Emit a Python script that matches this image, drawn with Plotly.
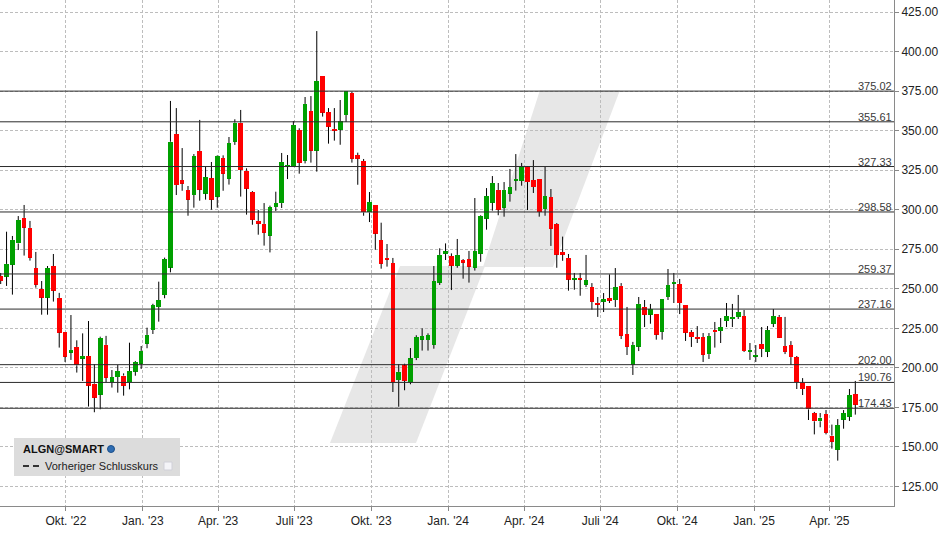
import pandas as pd
import plotly.graph_objects as go

# ---------------- data (weekly candles, ALGN) ----------------
first_week = "2022-07-15"
n_weeks = 147

opens = [258.0, 257.7, 265.2, 278.7, 294.8, 288.5, 263.1, 249.9, 244.4, 264.4,
         244.2, 222.7, 209.6, 213.2, 205.8, 207.5, 190.0, 183.0, 214.5, 190.8,
         194.2, 195.1, 190.8, 197.6, 202.7, 215.3, 223.9, 238.5, 246.1, 263.4,
         347.9, 318.8, 312.5, 309.3, 337.2, 310.2, 320.0, 308.3, 332.7, 319.6,
         343.0, 355.1, 324.7, 311.2, 292.9, 291.0, 283.6, 301.7, 304.2, 327.2,
         327.6, 350.4, 331.0, 362.4, 337.4, 384.6, 361.8, 351.1, 350.6, 359.9,
         373.8, 334.6, 330.8, 298.3, 303.0, 280.8, 269.5, 266.3, 192.3, 201.5,
         191.0, 206.2, 217.8, 217.6, 214.6, 253.9, 272.2, 270.7, 264.6, 268.2,
         268.8, 263.3, 272.2, 294.3, 304.5, 312.5, 301.3, 310.2, 318.4, 318.2,
         327.2, 318.8, 319.4, 300.5, 308.0, 291.0, 273.3, 269.5, 255.8, 256.8,
         252.6, 251.1, 241.0, 241.8, 244.2, 242.9, 251.8, 221.4, 201.8, 213.4,
         238.5, 233.6, 234.0, 222.9, 244.8, 253.2, 253.0, 239.7, 222.6, 219.5,
         219.5, 208.7, 223.9, 223.3, 229.6, 230.9, 232.2, 232.8, 210.2, 207.1,
         215.1, 210.2, 227.9, 232.2, 213.8, 214.4, 206.8, 190.4, 188.5, 171.4,
         166.2, 170.8, 157.1, 148.2, 167.2, 169.1, 183.4]

highs = [260.0, 286.1, 283.4, 296.0, 303.0, 292.9, 273.3, 254.9, 264.4, 272.0,
         247.4, 222.7, 233.4, 217.4, 221.8, 229.6, 202.4, 219.7, 220.2, 198.6,
         201.8, 196.5, 215.9, 204.3, 213.8, 225.4, 240.5, 254.5, 269.7, 368.8,
         364.3, 339.0, 315.0, 335.2, 356.8, 327.5, 330.2, 334.4, 334.4, 346.0,
         357.2, 363.1, 326.2, 311.8, 299.8, 304.2, 302.6, 311.4, 335.9, 334.6,
         356.1, 351.5, 371.3, 371.9, 413.0, 384.6, 364.3, 364.3, 369.4, 374.9,
         374.5, 336.1, 332.1, 311.2, 303.0, 291.8, 278.3, 269.5, 202.4, 202.6,
         212.5, 220.6, 225.0, 221.8, 264.4, 275.6, 278.7, 272.4, 281.5, 268.8,
         273.9, 307.4, 296.5, 313.7, 321.3, 316.9, 317.5, 325.8, 335.2, 329.6,
         327.6, 331.4, 319.4, 327.2, 313.1, 291.6, 283.0, 272.0, 260.0, 260.0,
         271.4, 253.6, 244.8, 247.3, 259.1, 263.1, 253.6, 238.5, 216.4, 244.8,
         242.9, 240.4, 234.0, 243.5, 262.5, 260.0, 256.2, 239.7, 223.9, 226.4,
         222.0, 222.0, 229.0, 231.5, 241.0, 240.4, 246.1, 236.6, 215.7, 214.4,
         225.8, 226.4, 237.2, 233.4, 232.2, 216.9, 207.5, 193.5, 188.5, 172.1,
         171.4, 173.3, 164.1, 167.6, 173.3, 186.6, 191.7]

lows = [253.0, 251.8, 246.3, 274.5, 271.0, 267.8, 250.7, 233.6, 233.6, 241.9,
        212.8, 203.7, 205.0, 197.0, 191.7, 175.5, 171.9, 173.8, 190.8, 187.5,
        184.3, 182.4, 186.4, 195.0, 199.3, 212.4, 221.4, 229.2, 244.0, 260.4,
        309.3, 312.0, 296.2, 301.3, 305.7, 306.4, 300.0, 301.3, 312.0, 315.9,
        341.0, 308.3, 296.9, 290.5, 284.2, 277.3, 273.0, 299.2, 301.1, 319.4,
        327.2, 322.8, 329.3, 329.8, 324.1, 358.9, 341.8, 343.7, 341.1, 355.5,
        329.8, 315.8, 296.2, 292.2, 274.7, 262.7, 264.0, 184.7, 175.4, 185.8,
        189.6, 204.9, 210.9, 210.9, 212.1, 252.4, 268.2, 249.2, 263.3, 256.4,
        253.9, 261.5, 267.1, 287.4, 299.4, 296.5, 295.6, 305.1, 312.1, 315.2,
        299.8, 310.6, 295.6, 296.2, 277.1, 263.3, 267.7, 248.8, 249.4, 245.6,
        251.1, 236.8, 232.2, 235.3, 241.0, 238.5, 218.2, 208.1, 195.5, 210.6,
        225.8, 227.9, 217.8, 217.8, 242.9, 241.0, 234.0, 217.0, 213.2, 215.7,
        203.7, 205.6, 212.8, 215.7, 225.8, 225.8, 230.9, 210.0, 205.0, 203.7,
        206.8, 206.8, 225.8, 218.9, 208.7, 201.8, 186.6, 182.8, 167.0, 157.9,
        162.4, 157.9, 148.9, 141.3, 161.5, 166.4, 170.4]

closes = [255.1, 265.7, 280.9, 293.5, 288.7, 269.7, 252.6, 244.4, 263.1, 248.8,
          222.3, 207.1, 211.3, 201.6, 207.5, 188.7, 181.1, 218.9, 193.8, 194.2,
          198.0, 188.7, 198.0, 203.7, 210.7, 220.8, 239.7, 242.9, 268.8, 343.0,
          315.6, 316.5, 306.4, 334.0, 312.7, 320.7, 306.4, 334.0, 322.8, 342.2,
          355.1, 325.3, 313.3, 293.7, 291.2, 285.5, 301.7, 304.2, 330.2, 328.3,
          353.6, 329.8, 366.9, 337.4, 381.4, 361.4, 352.5, 350.0, 356.1, 374.9,
          332.3, 332.3, 298.3, 304.9, 284.9, 265.9, 268.4, 191.0, 197.4, 191.8,
          206.0, 219.5, 220.1, 220.8, 254.9, 271.4, 273.7, 264.6, 271.4, 266.5,
          264.0, 273.9, 296.0, 308.7, 316.9, 300.0, 312.5, 314.4, 319.4, 327.2,
          317.5, 314.4, 298.6, 308.7, 288.0, 271.6, 271.6, 255.8, 256.8, 255.8,
          255.5, 241.8, 240.0, 243.5, 242.5, 251.1, 220.3, 213.4, 214.5, 240.4,
          233.6, 237.2, 221.0, 243.5, 252.4, 254.3, 241.0, 222.2, 219.5, 218.4,
          208.3, 220.1, 222.6, 225.8, 232.8, 232.2, 235.3, 210.6, 211.3, 208.1,
          211.9, 223.9, 232.8, 219.1, 210.2, 206.8, 191.0, 186.6, 173.7, 166.2,
          168.5, 159.0, 153.3, 163.8, 171.4, 182.8, 176.7]

levels = [375.02, 355.61, 327.33, 298.58, 259.37, 237.16, 202.00, 190.76, 174.43]

tick_dates = ["2022-10-01", "2023-01-01", "2023-04-01", "2023-07-01", "2023-10-01",
              "2024-01-01", "2024-04-01", "2024-07-01", "2024-10-01", "2025-01-01",
              "2025-04-01"]
tick_labels = ["Okt. '22", "Jan. '23", "Apr. '23", "Juli '23", "Okt. '23",
               "Jan. '24", "Apr. '24", "Juli '24", "Okt. '24", "Jan. '25", "Apr. '25"]

symbol_label = "ALGN@SMART"
legend_label = "Vorheriger Schlusskurs"

# ---------------- figure ----------------
W, H = 948, 534
ML, MR, MT, MB = 0, 54, 0, 28
PW, PH = W - ML - MR, H - MT - MB

dates = pd.date_range(first_week, periods=n_weeks, freq="7D")

UP = "#00a000"
DOWN = "#ff0000"
FONT = "Liberation Sans, Arial, sans-serif"

# wicks: upper (high -> body top) and lower (body bottom -> low) segments
wx, wy = [], []
for d, o, h, l, c in zip(dates, opens, highs, lows, closes):
    top, bot = max(o, c), min(o, c)
    if h > top:
        wx += [d, d, None]
        wy += [h, top, None]
    if l < bot:
        wx += [d, d, None]
        wy += [bot, l, None]

body_base = [min(o, c) for o, c in zip(opens, closes)]
body_len = [max(abs(c - o), 0.9) for o, c in zip(opens, closes)]
body_col = [UP if c >= o else DOWN for o, c in zip(opens, closes)]

day_ms = 86400000
fig = go.Figure()
fig.add_trace(go.Bar(x=dates, y=body_len, base=body_base,
                     marker=dict(color=body_col, line=dict(width=0), opacity=1),
                     width=5.5 * day_ms, showlegend=False))
fig.add_trace(go.Scatter(x=wx, y=wy, mode="lines",
                         line=dict(color="#000000", width=1),
                         hoverinfo="skip", showlegend=False))


def px_x(p):
    return p / PW


def px_y(p):
    return 1 - p / PH


shapes = []
# watermark logo
GRAY = "#e7e7e7"


def poly(pts):
    s = "M " + " L ".join(f"{px_x(x):.5f},{px_y(y):.5f}" for x, y in pts) + " Z"
    return dict(type="path", xref="paper", yref="paper", path=s,
                fillcolor=GRAY, line=dict(width=0), layer="below")


shapes.append(poly([(540, 90), (620, 90), (553, 267), (483, 267)]))
shapes.append(poly([(400, 266), (485, 266), (416, 443), (330, 443)]))

for lv in levels:
    shapes.append(dict(type="line", xref="paper", yref="y", x0=0, x1=1, y0=lv, y1=lv,
                       line=dict(color="#2b2b2b", width=1), layer="above"))

# legend box
shapes.append(dict(type="rect", xref="paper", yref="paper",
                   x0=px_x(14), x1=px_x(180), y0=px_y(476), y1=px_y(438),
                   fillcolor="#dcdcdc", line=dict(width=0), layer="above"))
shapes.append(dict(type="circle", xref="paper", yref="paper",
                   x0=px_x(107.5), x1=px_x(114.5), y0=px_y(452.5), y1=px_y(445.5),
                   fillcolor="#2f6db3", line=dict(color="#1c4f8a", width=1), layer="above"))
shapes.append(dict(type="line", xref="paper", yref="paper",
                   x0=px_x(23), x1=px_x(40), y0=px_y(466), y1=px_y(466),
                   line=dict(color="#333333", width=2, dash="6px,4px"), layer="above"))
shapes.append(dict(type="rect", xref="paper", yref="paper",
                   x0=px_x(164), x1=px_x(172), y0=px_y(470), y1=px_y(462),
                   fillcolor="#f4f4f8", line=dict(color="#d0d0d8", width=1), layer="above"))

annotations = []
for lv in levels:
    annotations.append(dict(xref="paper", yref="y", x=1, y=lv, xanchor="right",
                            yanchor="bottom", xshift=0, yshift=-3,
                            text=f"{lv:.2f}", showarrow=False,
                            font=dict(family=FONT, size=11, color="#3a3a3a")))
annotations.append(dict(xref="paper", yref="paper", x=px_x(21), y=px_y(449),
                        xanchor="left", yanchor="middle", showarrow=False,
                        text=f"<b>{symbol_label}</b>",
                        font=dict(family=FONT, size=11, color="#111111")))
annotations.append(dict(xref="paper", yref="paper", x=px_x(43), y=px_y(466),
                        xanchor="left", yanchor="middle", showarrow=False,
                        text=legend_label,
                        font=dict(family=FONT, size=11, color="#222222")))

px_per_day = (855.3 - 0.7) / ((n_weeks - 1) * 7)
x_left = dates[0] - pd.Timedelta(days=0.7 / px_per_day)
x_right = dates[0] + pd.Timedelta(days=(PW - 0.7) / px_per_day)

y_top = 425 + 12.1 / 1.581
y_bot = 425 - (PH - 12.1) / 1.581

grid = dict(showgrid=True, gridcolor="#bdbdbd", gridwidth=1, griddash="3px,2px")

fig.update_layout(
    width=W, height=H,
    margin=dict(l=ML, r=MR, t=MT, b=MB, pad=0),
    paper_bgcolor="#ffffff", plot_bgcolor="#ffffff",
    showlegend=False, bargap=0,
    shapes=shapes, annotations=annotations,
    font=dict(family=FONT, size=12, color="#222222"),
    xaxis=dict(type="date", range=[x_left, x_right],
               tickvals=pd.to_datetime(tick_dates), ticktext=tick_labels,
               ticks="outside", ticklen=4, tickcolor="#888888",
               showline=True, linecolor="#8a8a8a", linewidth=1,
               zeroline=False, tickfont=dict(family=FONT, size=12, color="#222222"),
               fixedrange=True, **grid),
    yaxis=dict(side="right", range=[y_bot, y_top], tick0=0, dtick=25,
               tickformat=".2f", ticks="outside", ticklen=4, tickcolor="#888888",
               showline=True, linecolor="#8a8a8a", linewidth=1, mirror=True,
               zeroline=False, tickfont=dict(family=FONT, size=12, color="#222222"),
               fixedrange=True, **grid),
)

fig.write_html("out.html", config={"displayModeBar": False},
               post_script="document.body.style.margin='0';document.body.style.overflow='hidden';")
